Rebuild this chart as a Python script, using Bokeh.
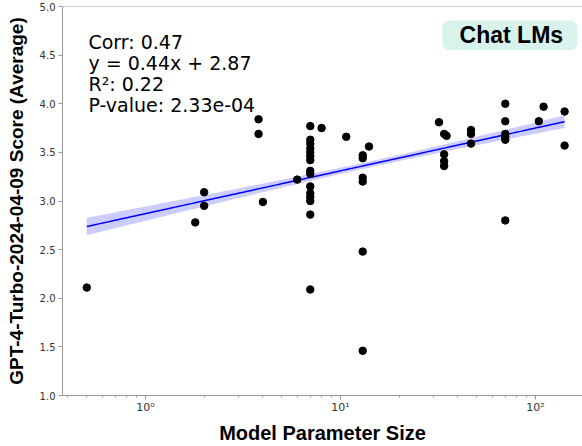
import numpy as np
from bokeh.plotting import figure
from bokeh.models import (ColumnDataSource, FixedTicker, CustomJSTickFormatter,
                          PrintfTickFormatter, Span, BoxAnnotation, Label, Range1d)
from bokeh.embed import file_html
from bokeh.resources import INLINE
from bokeh.core.properties import value

# ---- data ----
model_size = [0.5, 1.8, 2, 2, 3.8, 3.8, 4, 6,
              7, 7, 7, 7, 7, 7, 7, 7, 7, 7, 7, 7, 7, 7, 7,
              8, 10.7,
              13, 13, 13, 13, 13, 13, 14,
              32, 34, 35, 34, 34, 34,
              46.7, 46.7, 46.7,
              70, 70, 70, 70, 70, 70,
              104, 110, 141, 141]
score = [2.11, 2.78, 3.09, 2.95, 3.84, 3.69, 2.99, 3.22,
         3.77, 3.63, 3.59, 3.54, 3.50, 3.46, 3.42, 3.31, 3.28, 3.15, 3.08, 3.04, 3.00, 2.86, 2.09,
         3.75, 3.66,
         3.47, 3.44, 3.24, 3.20, 2.48, 1.46, 3.56,
         3.81, 3.69, 3.67, 3.48, 3.41, 3.36,
         3.73, 3.69, 3.59,
         4.00, 3.82, 3.69, 3.66, 3.63, 2.80,
         3.82, 3.97, 3.92, 3.57]

SLOPE = 0.44
INTERCEPT = 2.87
stats_lines = ["Corr: 0.47", "y = 0.44x + 2.87", "R\u00b2: 0.22", "P-value: 2.33e-04"]
badge_text = "Chat LMs"
x_label = "Model Parameter Size"
y_label = "GPT-4-Turbo-2024-04-09 Score (Average)"
y_ticks = [1.0, 1.5, 2.0, 2.5, 3.0, 3.5, 4.0, 4.5, 5.0]
x_major = [1, 10, 100]
x_minor = [0.4, 0.5, 0.6, 0.7, 0.8, 0.9, 2, 3, 4, 5, 6, 7, 8, 9,
           20, 30, 40, 50, 60, 70, 80, 90, 200]
CI_Z = 0.5

# ---- regression band from the data ----
lx_data = np.log10(np.array(model_size, dtype=float))
y_data = np.array(score)
n = len(y_data)
resid = y_data - (SLOPE * lx_data + INTERCEPT)
s = np.sqrt(np.sum(resid ** 2) / (n - 2))
mean_lx = lx_data.mean()
sxx = np.sum((lx_data - mean_lx) ** 2)
lx_grid = np.linspace(lx_data.min(), lx_data.max(), 120)
fit = SLOPE * lx_grid + INTERCEPT
half = CI_Z * s * np.sqrt(1.0 / n + (lx_grid - mean_lx) ** 2 / sxx)
fit_src = ColumnDataSource(dict(x=10 ** lx_grid, y=fit, lo=fit - half, hi=fit + half))
pts = ColumnDataSource(dict(x=model_size, y=score))

p = figure(width=582, height=446, x_axis_type="log",
           x_range=Range1d(0.3754, 174.2), y_range=Range1d(1.0, 5.0),
           output_backend="svg", toolbar_location=None,
           min_border_left=62, min_border_right=0, min_border_top=6, min_border_bottom=50)
p.outline_line_color = None
p.grid.visible = False
p.background_fill_color = "white"

p.varea(x="x", y1="lo", y2="hi", source=fit_src, fill_color="#0000ff", fill_alpha=0.2)
p.line(x="x", y="y", source=fit_src, line_color="#0000ff", line_width=1.5)
p.scatter(x="x", y="y", source=pts, size=7.5, fill_color="black", line_color="black")

# top spine
p.add_layout(Span(location=5.0, dimension="width", line_color="#999999", line_width=1))

# axes
ax = p.xaxis[0]
ax.ticker = FixedTicker(ticks=x_major, minor_ticks=x_minor)
ax.formatter = CustomJSTickFormatter(code="""
const m = {1: '10\u2070', 10: '10\u00b9', 100: '10\u00b2'};
return m[Math.round(tick)] || '';
""")
ay = p.yaxis[0]
ay.ticker = FixedTicker(ticks=y_ticks)
ay.formatter = PrintfTickFormatter(format="%.1f")

for a in (ax, ay):
    a.axis_line_color = "#999999"
    a.major_tick_line_color = "#999999"
    a.major_tick_in = 0
    a.major_tick_out = 4
    a.minor_tick_in = 0
    a.minor_tick_out = 2
    a.major_label_text_font = "DejaVu Sans"
    a.major_label_text_font_size = "10px"
    a.major_label_text_color = "#333333"
    a.axis_label_text_font = "Liberation Sans"
    a.axis_label_text_font_style = "bold"
    a.axis_label_text_color = "black"
ax.minor_tick_line_color = "#999999"
ay.minor_tick_line_color = None

ax.axis_label = x_label
ax.axis_label_text_font_size = "20px"
ax.major_label_text_font_size = "11px"
ax.major_label_standoff = 1
ax.axis_label_standoff = 5
ay.axis_label = y_label
ay.axis_label_text_font_size = "19px"
ay.major_label_standoff = 3
ay.axis_label_standoff = 10

# stats text
stats_src = ColumnDataSource(dict(
    x=[0.51] * len(stats_lines),
    y=[4.631 - i * 0.2154 for i in range(len(stats_lines))],
    t=stats_lines))
p.text(x="x", y="y", text="t", source=stats_src, text_font=value("DejaVu Sans"),
       text_font_size="19px", text_color="black", text_baseline="alphabetic",
       text_align="left")

# badge
p.add_layout(BoxAnnotation(left=33.3, right=164, bottom=4.549, top=4.856,
                           fill_color="#d8f2ec", fill_alpha=1.0, line_color=None,
                           border_radius=7))
p.add_layout(Label(x=75.2, y=4.703, text=badge_text, text_align="center",
                   text_baseline="middle", text_font="Liberation Sans",
                   text_font_style="bold", text_font_size="23px", text_color="black"))

open("out.html", "w").write(file_html(p, INLINE))
